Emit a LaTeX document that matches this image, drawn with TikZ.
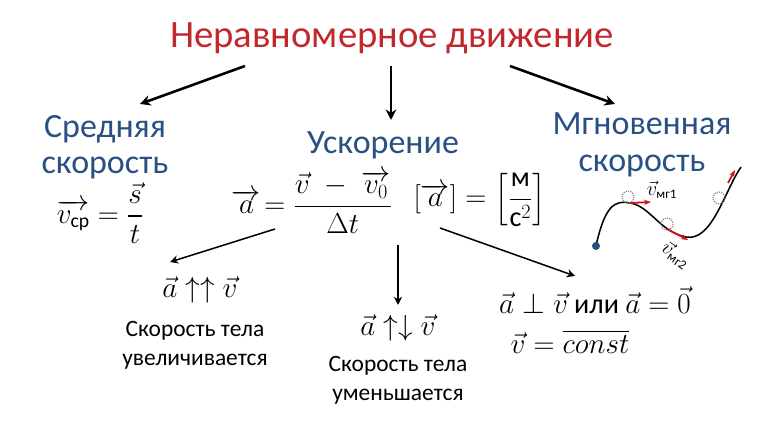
\documentclass[tikz,border=0pt]{standalone}
\usepackage{amsmath}
\usepackage{fontspec}
\setmainfont{Carlito}
\usetikzlibrary{arrows.meta}
\definecolor{titlered}{RGB}{192,40,45}
\definecolor{headblue}{RGB}{40,80,130}
\definecolor{vecred}{RGB}{200,20,30}
\tikzset{
	head/.style={text=headblue, font=\fontsize{29}{31}\selectfont, align=center},
	formula/.style={font=\fontsize{24}{28}\selectfont},
	note/.style={font=\fontsize{20}{25}\selectfont, align=center},
	bigarrow/.style={line width=2.2pt, -{Stealth[length=9pt,width=9pt]}},
	smallarrow/.style={line width=1.3pt, -{Stealth[length=7pt,width=7pt]}}
}
\begin{document}
\begin{tikzpicture}[x=0.03cm, y=-0.03cm]
	\useasboundingbox (0,0) rectangle (770,431);
	\node [text=titlered, font=\fontsize{33}{36}\selectfont] (title) at (392,38) {Неравномерное движение};

	\node [head] (mean) at (105,147) {Средняя\\скорость};
	\node [head] (accel) at (383,145) {Ускорение};
	\node [head] (inst) at (642,145) {Мгновенная\\скорость};

	\draw [bigarrow] (245,66) -- (140,104);
	\draw [bigarrow] (391,66) -- (391,120);
	\draw [bigarrow] (510,66) -- (615,104);

	\node [formula] (fmean) at (100,213) {$\overrightarrow{v_{\text{ср}}}=\dfrac{\vec s}{t}$};
	\node [formula] (facc) at (312,202) {$\overrightarrow{a}\!=\dfrac{\vec v\;-\;\overrightarrow{v_0}}{\Delta t}$};
	\node [formula] (funit) at (480,200) {$[\overrightarrow{a}]=\left[\dfrac{\text{м}}{\text{с}^2}\right]$};

	\coordinate (s1) at (275,229);
	\coordinate (s2) at (398,245);
	\coordinate (s3) at (440,228);
	\node [formula] (same) at (200,290) {$\vec a\uparrow\uparrow\vec v$};
	\node [note] (faster) at (195,345) {Скорость тела\\увеличивается};
	\node [formula] (opp) at (398,328) {$\vec a\uparrow\downarrow\vec v$};
	\node [note] (slower) at (398,380) {Скорость тела\\уменьшается};
	\node [formula] (perp) at (595,300) {$\vec a\perp\vec v$ или $\vec a=\vec 0$};
	\node [formula] (const) at (570,342) {$\vec v=\overline{const}$};
	\draw [smallarrow] (s1) -- (170,262);
	\draw [smallarrow] (s2) -- (398,305);
	\draw [smallarrow] (s3) -- (575,276);

	% trajectory
	\coordinate (p0) at (596,246);
	\coordinate (p1) at (630,203);
	\coordinate (p2) at (686,237);
	\coordinate (p3) at (741,167);
	\draw [line width=1.3pt] (p0) .. controls (605,205) and (615,200) .. (p1)
		.. controls (650,206) and (660,232) .. (p2)
		.. controls (712,242) and (725,190) .. (p3);
	\fill [headblue] (p0) circle (4);
	\foreach \c in {(628,197),(667,224),(719,198)}
		\draw [gray, densely dotted, line width=1pt] \c circle (6);
	\draw [vecred, line width=1.5pt, -{Stealth[length=6pt]}] (630,203) -- (651,202);
	\draw [vecred, line width=1.5pt, -{Stealth[length=6pt]}] (667,229) -- (688,240);
	\draw [vecred, line width=1.5pt, -{Stealth[length=6pt]}] (728,183) -- (735,170);
	\node [font=\fontsize{16}{18}\selectfont] (v1) at (662,190) {$\vec v_{\text{мг1}}$};
	\node [font=\fontsize{16}{18}\selectfont, rotate=-35] (v2) at (676,255) {$\vec v_{\text{мг2}}$};
\end{tikzpicture}
\end{document}
